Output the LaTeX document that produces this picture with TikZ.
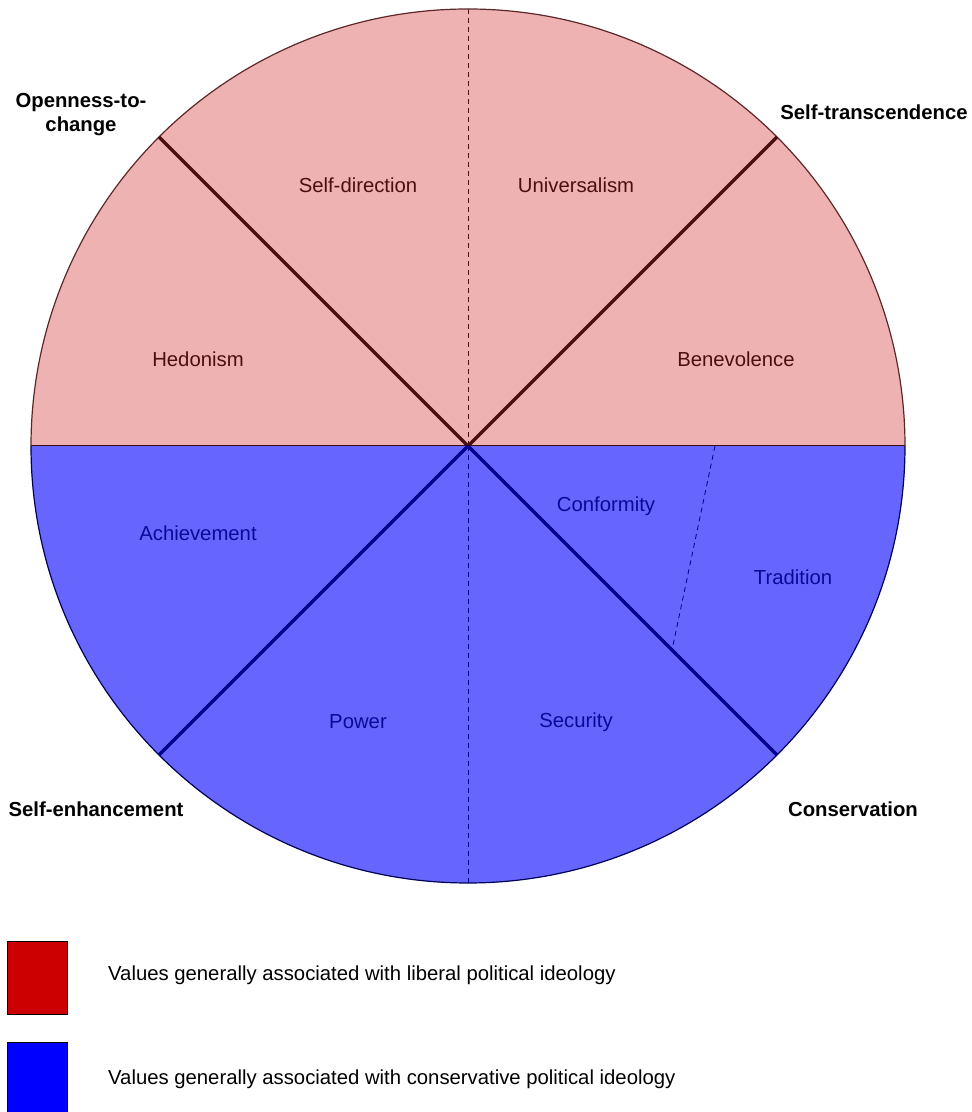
\documentclass[tikz,border=0pt]{standalone}
\usepackage{fontspec}
\setmainfont{Liberation Sans}
\definecolor{pinkfill}{RGB}{239,178,178}
\definecolor{bluefill}{RGB}{102,102,255}
\definecolor{redline}{RGB}{75,15,15}
\definecolor{blueline}{RGB}{0,0,140}
\definecolor{redtext}{RGB}{75,15,15}
\definecolor{bluetext}{RGB}{10,10,150}
\definecolor{legred}{RGB}{204,0,0}
\definecolor{legblue}{RGB}{0,0,255}
\begin{document}
\begin{tikzpicture}[x=1pt,y=1pt,
  every node/.style={font=\fontsize{20.3}{24}\selectfont, inner sep=0pt},
  redlab/.style={text=redtext},
  bluelab/.style={text=bluetext},
  outer/.style={font=\fontsize{20.3}{23.5}\selectfont\bfseries, text=black, align=center},
  thickred/.style={draw=redline, line width=3.2pt},
  thickblue/.style={draw=blueline, line width=3.2pt},
  thindash/.style={dash pattern=on 5pt off 4pt, line width=0.8pt},
  legbox/.style={draw=black, line width=0.8pt}]
\useasboundingbox (0,0) rectangle (972,1112);
\coordinate (C) at (468,666);
\coordinate (L) at (31,666);
\coordinate (R) at (905,666);
\coordinate (T) at (468,1103);
\coordinate (B) at (468,229);
\coordinate (UL) at (159,975);
\coordinate (UR) at (777,975);
\coordinate (LL) at (159,357);
\coordinate (LR) at (777,357);
\coordinate (TT) at (715,666);
\coordinate (TB) at (672,462);
% halves
\fill[pinkfill] (L) arc[start angle=180,end angle=0,radius=437] -- cycle;
\fill[bluefill] (L) arc[start angle=180,end angle=360,radius=437] -- cycle;
% dashed separators
\draw[thindash, draw=redline] (C) -- (T);
\draw[thindash, draw=blueline] (C) -- (B);
\draw[thindash, draw=blueline] (TT) -- (TB);
% horizontal boundary
\draw[draw=redline!80!black, line width=1pt] (L) -- (R);
% outlines
\draw[draw=redline!90, line width=1.2pt] (L) arc[start angle=180,end angle=0,radius=437];
\draw[draw=blueline!60!black, line width=1.2pt] (L) arc[start angle=180,end angle=360,radius=437];
% thick lines
\draw[thickred] (C) -- (UL);
\draw[thickred] (C) -- (UR);
\draw[thickblue] (C) -- (LL);
\draw[thickblue] (C) -- (LR);
% value labels
\node[redlab] (sd) at (358,927) {Self-direction};
\node[redlab] (un) at (576,927) {Universalism};
\node[redlab] (he) at (198,753) {Hedonism};
\node[redlab] (be) at (736,753) {Benevolence};
\node[bluelab] (ac) at (198,579) {Achievement};
\node[bluelab] (po) at (358,390) {Power};
\node[bluelab] (se) at (576,390) {Security};
\node[bluelab] (co) at (606,606) {Conformity};
\node[bluelab] (tr) at (793,535) {Tradition};
% outer labels
\node[outer] (otc) at (81,997.5) {Openness-to-\\change};
\node[outer] (st) at (874,1000) {Self-transcendence};
\node[outer] (sen) at (96,303) {Self-enhancement};
\node[outer] (cons) at (853,303) {Conservation};
% legend
\draw[legbox, fill=legred] (7,98) rectangle (67,171);
\draw[legbox, fill=legblue] (7,-5) rectangle (67,70);
\node[anchor=west, text=black] (l1) at (108,137) {Values generally associated with liberal political ideology};
\node[anchor=west, text=black] (l2) at (108,33) {Values generally associated with conservative political ideology};
\end{tikzpicture}
\end{document}
